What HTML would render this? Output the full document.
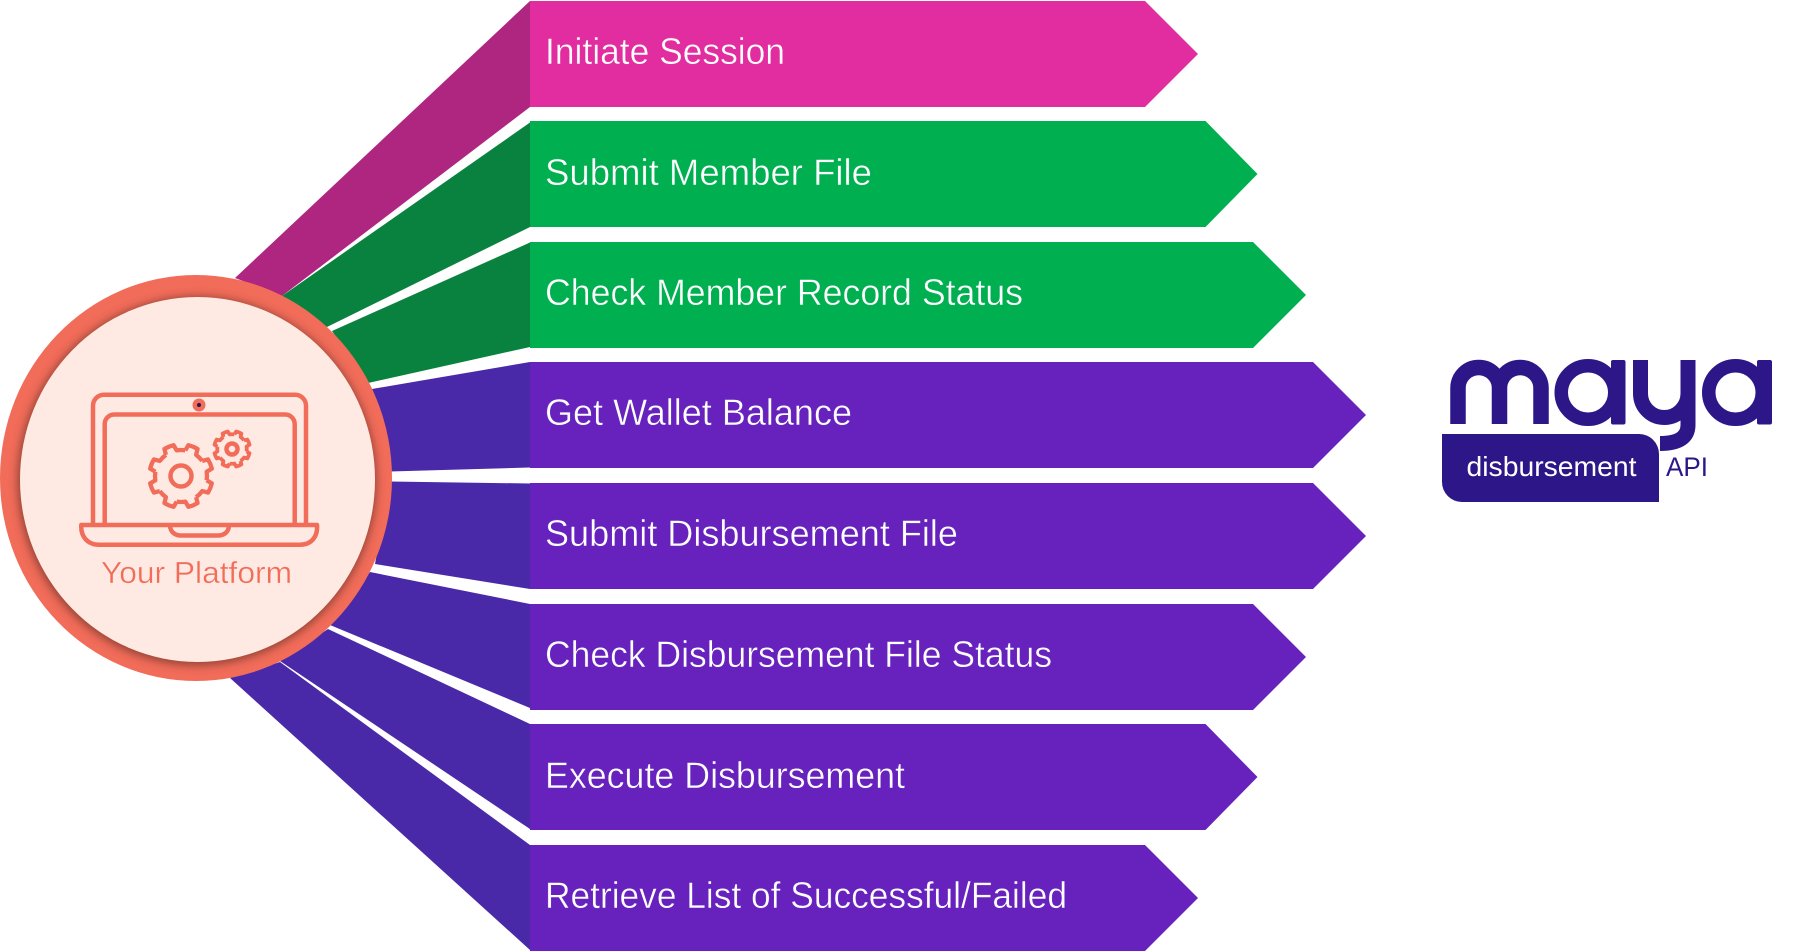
<!DOCTYPE html>
<html lang="en">
<head>
<meta charset="utf-8">
<title>Your Platform to Maya Disbursement API</title>
<style>
html,body{margin:0;padding:0;background:#fff;width:1794px;height:952px;overflow:hidden}
svg{display:block}
text{font-family:"Liberation Sans",sans-serif}
.lbl{font-size:37px;fill:#fff;stroke-width:.45px}
.p{stroke:#E22DA0}.g{stroke:#00B050}.v{stroke:#6722BE}
</style>
</head>
<body>
<svg width="1794" height="952" viewBox="0 0 1794 952" xmlns="http://www.w3.org/2000/svg">
<defs>
<filter id="bl" x="-10%" y="-10%" width="120%" height="120%"><feGaussianBlur stdDeviation="4.500"/></filter>
<g id="t"><path d="M80.9 13.5L97.2 23.3A100 100 0 0 1 85.3 52.3L66.8 47.6A82 82 0 0 1 47.6 66.8"/></g>
<g id="gear">
<use href="#t"/><use href="#t" transform="rotate(45)"/><use href="#t" transform="rotate(90)"/><use href="#t" transform="rotate(135)"/>
<use href="#t" transform="rotate(180)"/><use href="#t" transform="rotate(225)"/><use href="#t" transform="rotate(270)"/><use href="#t" transform="rotate(315)"/>
</g>
</defs>

<!-- wedges -->
<polygon fill="#AE2680" points="530,1 235,278 282,296 530,107"/>
<polygon fill="#0A823F" points="530,122.500 282,296 327,327 530,227"/>
<polygon fill="#0A823F" points="530,242.500 332,331 368,383 530,347"/>
<polygon fill="#4A29A8" points="530,362 372,389 390,471.500 530,467.500"/>
<polygon fill="#4A29A8" points="530,483.500 390,481.500 375,564 530,589"/>
<polygon fill="#4A29A8" points="530,604 370,572 330,625 530,708"/>
<polygon fill="#4A29A8" points="530,724 328,629 280,661 530,829"/>
<polygon fill="#4A29A8" points="530,845 280,662 230,678 530,950"/>

<!-- bars -->
<polygon fill="#E22DA0" points="530,1 1145,1 1198,54 1145,107 530,107"/>
<polygon fill="#00B050" points="530,121 1205.500,121 1257.500,174 1205.500,227 530,227"/>
<polygon fill="#00B050" points="530,242 1253,242 1306,295 1253,348 530,348"/>
<polygon fill="#6722BE" points="530,362 1313,362 1366,415 1313,468 530,468"/>
<polygon fill="#6722BE" points="530,483 1313,483 1366,536 1313,589 530,589"/>
<polygon fill="#6722BE" points="530,604 1253,604 1306,657 1253,710 530,710"/>
<polygon fill="#6722BE" points="530,724 1205.500,724 1257.500,777 1205.500,830 530,830"/>
<polygon fill="#6722BE" points="530,845 1145,845 1198,898 1145,951 530,951"/>

<!-- labels -->
<text class="lbl p" x="545" y="64" textLength="240" lengthAdjust="spacingAndGlyphs">Initiate Session</text>
<text class="lbl g" x="545" y="185" textLength="327" lengthAdjust="spacingAndGlyphs">Submit Member File</text>
<text class="lbl g" x="545" y="305" textLength="478" lengthAdjust="spacingAndGlyphs">Check Member Record Status</text>
<text class="lbl v" x="545" y="425" textLength="307" lengthAdjust="spacingAndGlyphs">Get Wallet Balance</text>
<text class="lbl v" x="545" y="546" textLength="413" lengthAdjust="spacingAndGlyphs">Submit Disbursement File</text>
<text class="lbl v" x="545" y="667" textLength="507" lengthAdjust="spacingAndGlyphs">Check Disbursement File Status</text>
<text class="lbl v" x="545" y="788" textLength="360" lengthAdjust="spacingAndGlyphs">Execute Disbursement</text>
<text class="lbl v" x="545" y="908" textLength="522" lengthAdjust="spacingAndGlyphs">Retrieve List of Successful/Failed</text>

<!-- platform circle -->
<ellipse cx="196" cy="478" rx="196" ry="203" fill="#F26C5A"/>
<ellipse cx="197" cy="481" rx="179.500" ry="184.500" fill="#8a3f33" opacity=".9" filter="url(#bl)"/>
<ellipse cx="197.500" cy="479.500" rx="177.500" ry="182.500" fill="#FEEAE2"/>

<!-- laptop icon -->
<g fill="none" stroke="#F26C5A" stroke-width="4.500" stroke-linejoin="round">
  <path d="M93 525V406A11 11 0 0 1 104 394.700H295A11 11 0 0 1 306 406V525"/>
  <path d="M104.700 525V424A9.500 9.500 0 0 1 114.200 414.500H285.200A9.500 9.500 0 0 1 294.700 424V525"/>
  <path d="M81.300 525H317C318 537 311 544.700 300 544.700H99C88 544.700 80.500 537 81.300 525Z"/>
  <path d="M170 526C170.500 532 175 535.500 181 535.500H218C224 535.500 228.500 532 229 526"/>
  <g transform="translate(181,476) scale(.317)" stroke-width="13.500"><use href="#gear"/></g>
  <circle cx="181" cy="476" r="10.500"/>
  <g transform="translate(232,449) scale(.18)" stroke-width="21"><use href="#gear"/></g>
  <circle cx="232" cy="449" r="5.500"/>
</g>
<circle cx="199" cy="405" r="6.500" fill="#F26C5A"/>
<circle cx="199" cy="405" r="2" fill="#2D1650"/>
<text x="101" y="583" font-size="30.500" fill="#F26C5A" stroke="#FEEAE2" stroke-width=".35" textLength="191" lengthAdjust="spacingAndGlyphs">Your Platform</text>

<!-- maya logo -->
<g fill="none" stroke="#2D1688">
  <path stroke-width="15.500" d="M1458 424V388A20.750 20.500 0 0 1 1499.500 388V424M1499.500 388A20.750 20.500 0 0 1 1541 388V424"/>
  <circle cx="1588" cy="392.500" r="26.750" stroke-width="13.500"/>
  <circle cx="1735.500" cy="392.500" r="26.750" stroke-width="13.500"/>
  <path stroke-width="15" d="M1640.500 360V393.500A23.750 24 0 0 0 1688 393.500V360"/>
  <path stroke-width="15" d="M1688 393V425Q1688 443.500 1660 443.500"/>
</g>
<rect x="1611" y="360" width="14.500" height="64.500" rx="2" fill="#2D1688"/>
<rect x="1757" y="360" width="15" height="64.500" rx="2" fill="#2D1688"/>
<path fill="#2D1688" d="M1442 434H1639A20 20 0 0 1 1659 454V502H1462A20 20 0 0 1 1442 482Z"/>
<text x="1466.500" y="476" font-size="28" fill="#fff" textLength="170" lengthAdjust="spacingAndGlyphs">disbursement</text>
<text x="1666" y="476" font-size="27" fill="#2D1688" textLength="42" lengthAdjust="spacingAndGlyphs">API</text>
</svg>
</body>
</html>
